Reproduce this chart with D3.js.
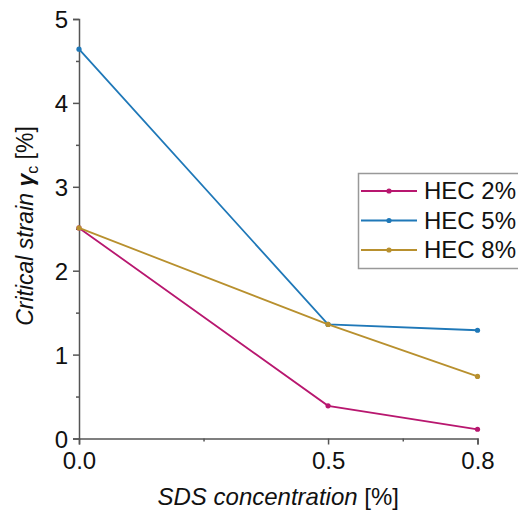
<!DOCTYPE html>
<html>
<head>
<meta charset="utf-8">
<script src="https://cdn.jsdelivr.net/npm/d3@7"></script>
<style>
  html, body { margin: 0; padding: 0; background: #fff; }
  svg { display: block; font-family: "Liberation Sans", Arial, sans-serif; }
</style>
</head>
<body>
<svg id="chart" width="518" height="512"></svg>
<script>
// SDS concentration (x, in %)
const sdsConc = [0.0, 0.5, 0.8];
// Critical strain per HEC concentration (%)
const hec2 = [2.51, 0.39, 0.11];
const hec5 = [4.64, 1.36, 1.29];
const hec8 = [2.51, 1.36, 0.74];
const seriesNames = ["HEC 2%", "HEC 5%", "HEC 8%"];
const seriesColors = ["#B8176F", "#1F78B8", "#B8902E"];
const xTicks = [0.0, 0.5, 0.8];
const xMinorTicks = [0.25, 0.65];
const yTicks = [0, 1, 2, 3, 4, 5];
const yMinorTicks = [0.5, 1.5, 2.5, 3.5, 4.5];

const svg = d3.select("#chart");
const axisColor = "#555";

const x = d3.scaleLinear().domain([0, 0.8]).range([79, 477.5]);
const y = d3.scaleLinear().domain([0, 5]).range([438.5, 19]);

// Y axis
const yAxis = svg.append("g").attr("transform", `translate(${x(0)},0)`)
  .call(d3.axisLeft(y).tickValues(yTicks).tickSize(6).tickPadding(5).tickFormat(d3.format("d")));
yAxis.selectAll("text").attr("font-size", 24).attr("fill", "#111").attr("dy", "0.36em");
svg.append("g").attr("transform", `translate(${x(0)},0)`)
  .call(d3.axisLeft(y).tickValues(yMinorTicks).tickSize(3).tickFormat(""))
  .select(".domain").remove();

// X axis
const xAxis = svg.append("g").attr("transform", `translate(0,${y(0)})`)
  .call(d3.axisBottom(x).tickValues(xTicks).tickSize(6).tickPadding(7).tickFormat(d3.format(".1f")));
xAxis.selectAll("text").attr("font-size", 24).attr("fill", "#111");
svg.append("g").attr("transform", `translate(0,${y(0)})`)
  .call(d3.axisBottom(x).tickValues(xMinorTicks).tickSize(3).tickFormat(""))
  .select(".domain").remove();

svg.selectAll(".domain, .tick line").attr("stroke", axisColor).attr("stroke-width", 1.5);

// Axis titles
const xt = svg.append("text")
  .attr("x", (x(0) + x(0.8)) / 2).attr("y", 505)
  .attr("text-anchor", "middle").attr("font-size", 24).attr("fill", "#111");
xt.append("tspan").attr("font-style", "italic").text("SDS concentration ");
xt.append("tspan").text("[%]");

const yt = svg.append("text")
  .attr("transform", "translate(33,226) rotate(-90)")
  .attr("text-anchor", "middle").attr("font-size", 23).attr("fill", "#111");
yt.append("tspan").attr("font-style", "italic").text("Critical strain ");
yt.append("tspan").attr("font-style", "italic").attr("font-weight", "bold").text("γ");
yt.append("tspan").attr("font-size", 16).attr("dy", 5).text("c");
yt.append("tspan").attr("dy", -5).text(" [%]");

// Series lines and markers
const series = [hec2, hec5, hec8];
const line = d3.line().x((d, i) => x(sdsConc[i])).y(d => y(d));
series.forEach((vals, k) => {
  svg.append("path").datum(vals)
    .attr("d", line).attr("fill", "none")
    .attr("stroke", seriesColors[k]).attr("stroke-width", 1.8);
  svg.selectAll(null).data(vals).enter().append("circle")
    .attr("cx", (d, i) => x(sdsConc[i])).attr("cy", d => y(d))
    .attr("r", 2.6).attr("fill", seriesColors[k]);
});

// Legend
const lg = svg.append("g");
lg.append("rect").attr("x", 358.5).attr("y", 173.5).attr("width", 200).attr("height", 95)
  .attr("fill", "#fff").attr("stroke", "#999").attr("stroke-width", 1.5);
seriesNames.forEach((name, k) => {
  const ly = 191 + k * 29.5;
  lg.append("line").attr("x1", 361).attr("x2", 417).attr("y1", ly).attr("y2", ly)
    .attr("stroke", seriesColors[k]).attr("stroke-width", 1.8);
  lg.append("circle").attr("cx", 389).attr("cy", ly).attr("r", 2.6).attr("fill", seriesColors[k]);
  lg.append("text").attr("x", 424).attr("y", ly + 8).attr("font-size", 24).attr("fill", "#111").text(name);
});
</script>
</body>
</html>
